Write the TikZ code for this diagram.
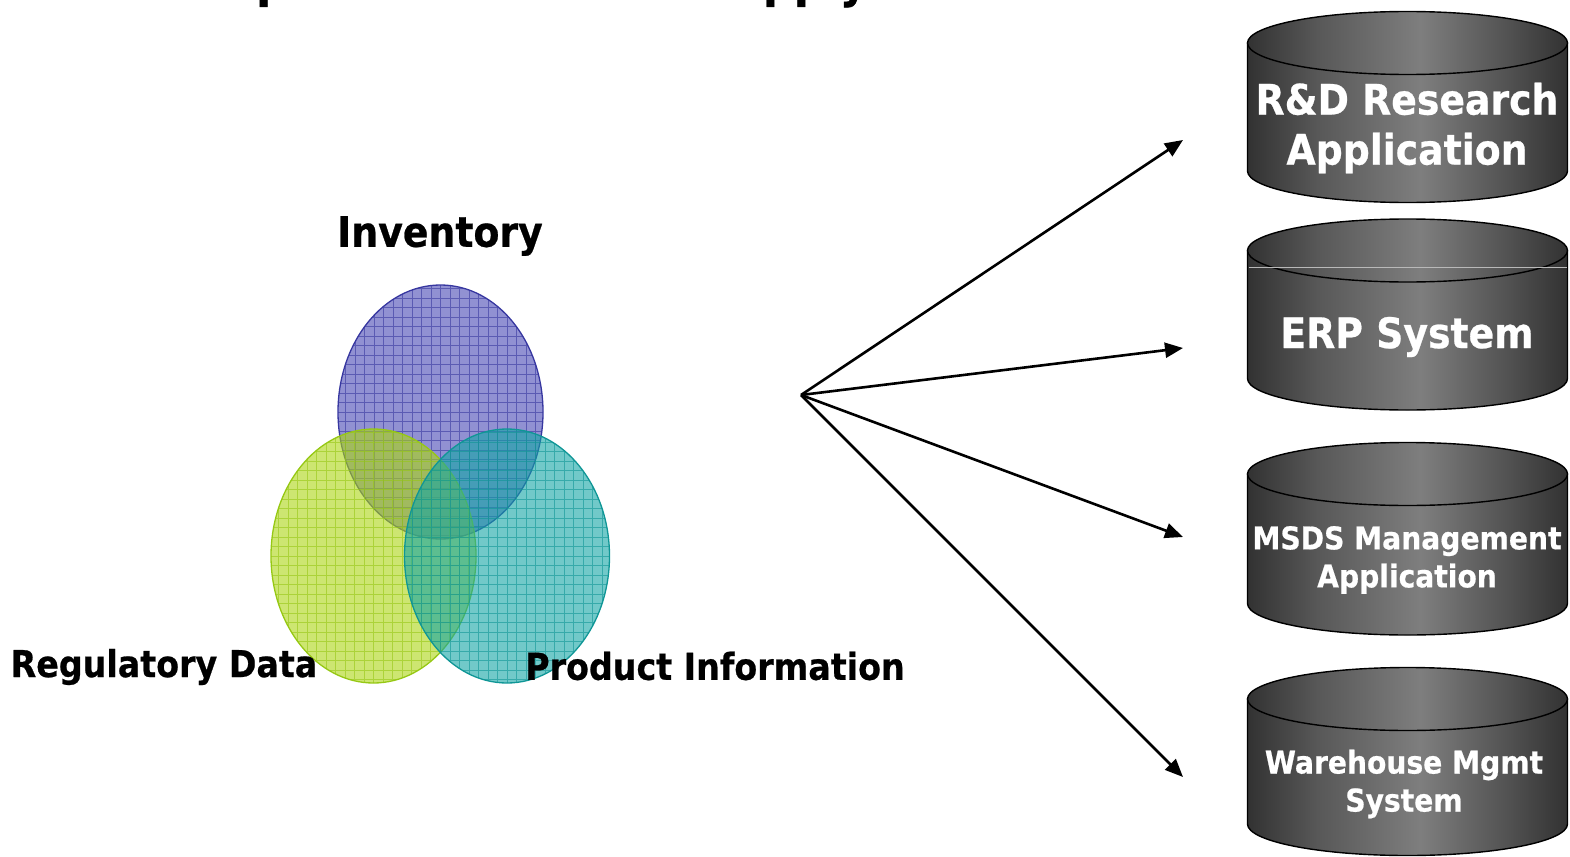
\documentclass[tikz,border=0pt]{standalone}
\usepackage{fontspec}
\newfontfamily\lbl[FakeStretch=0.9,FakeBold=0.6]{DejaVu Sans Bold}
\usetikzlibrary{arrows.meta,shapes.geometric}

\definecolor{drumdark}{RGB}{50,50,50}
\definecolor{drummid}{RGB}{88,88,88}
\definecolor{drumlight}{RGB}{126,126,126}
\definecolor{drumright}{RGB}{84,84,84}
\definecolor{venpurple}{RGB}{72,72,180}
\definecolor{venpurpleline}{RGB}{55,55,160}
\definecolor{vengreen}{RGB}{172,214,18}
\definecolor{vengreenline}{RGB}{150,200,20}
\definecolor{venteal}{RGB}{18,165,165}
\definecolor{ventealline}{RGB}{15,150,150}

% grey metallic sweep across a drum (the path spans 25bp..75bp), darkest at both sides
\pgfdeclarehorizontalshading{drumsweep}{100bp}{%
  color(0bp)=(drumdark); color(25bp)=(drumdark); color(36bp)=(drummid);
  color(52bp)=(drumlight); color(65bp)=(drumright);
  color(75bp)=(drumdark); color(100bp)=(drumdark)}

\tikzset{
  titletext/.style={font=\lbl\fontsize{48}{56}\selectfont, inner sep=0pt, text=black},
  lab/.style={font=\lbl\fontsize{37}{44}\selectfont, inner sep=0pt, text=black},
  biglab/.style={font=\lbl\fontsize{42}{50}\selectfont, inner sep=0pt, text=black},
  cyltext/.style={text=white, align=center, inner sep=0pt, font=\lbl\fontsize{42}{50}\selectfont},
  cylsmall/.style={text=white, align=center, inner sep=0pt, font=\lbl\fontsize{31.3}{38}\selectfont},
  link/.style={line width=2.6pt, -{Triangle[length=18pt,width=15pt]}},
  drum/.style={shading=drumsweep, draw=black, line width=1.4pt},
  venn/.style n args={3}{ellipse, minimum width=205pt, minimum height=254pt, inner sep=0pt,
               fill=#1, fill opacity=0.6, draw=#2, line width=1.3pt,
               path picture={\draw[#2, line width=0.8pt, draw opacity=0.6, step=9.5pt]
                 (path picture bounding box.south west) grid (path picture bounding box.north east);}},
}

% database drum: top ellipse centre y, bottom ellipse centre y
\newcommand\drawdrum[2]{%
  \path[drum] (1247.5,#1) -- (1247.5,#2)
     arc[start angle=180, end angle=0, x radius=160, y radius=31.5] -- (1567.5,#1) -- cycle;
  \path[drum] (1407.5,#1) ellipse[x radius=160, y radius=31.5];
}

\begin{document}
\begin{tikzpicture}[x=1pt, y=-1pt]
  \useasboundingbox (0,0) rectangle (1570,856);
  \clip (0,0) rectangle (1570,856);

  % heading, only its descenders fall inside the frame
  \node[titletext, anchor=base west] (headp) at (256,-3) {p};
  \node[titletext, anchor=base west] (headsupply) at (701,-3) {Supply};

  % three overlapping data sets
  \node[venn={venpurple}{venpurpleline}{}] (inv)  at (440.5,412) {};
  \node[venn={vengreen}{vengreenline}{}]   (reg)  at (373.5,556) {};
  \node[venn={venteal}{ventealline}{}]     (prod) at (507,556) {};

  \node[biglab] (invlab)  at (440,236) {Inventory};
  \node[lab]    (reglab)  at (164,667) {Regulatory Data};
  \node[lab]    (prodlab) at (715,666) {Product Information};

  % target systems
  \drawdrum{43}{171}
  \drawdrum{250.5}{378.5}
  \draw[gray!55, line width=0.8pt] (1248.5,267) -- (1566.5,267);
  \drawdrum{474}{603.5}
  \drawdrum{699}{824}

  \node[cyltext]  (rnd)  at (1407,128) {R\&D Research\\Application};
  \node[cyltext]  (erp)  at (1407,337) {ERP System};
  \node[cylsmall] (msds) at (1407,560) {MSDS Management\\Application};
  \node[cylsmall] (wms)  at (1404,784) {Warehouse Mgmt\\System};

  % fan-out connectors
  \coordinate (hub) at (801,395);
  \coordinate (endrnd)  at (1183,140);
  \coordinate (enderp)  at (1183,348);
  \coordinate (endmsds) at (1183,537);
  \coordinate (endwms)  at (1183,777);
  \draw[link] (hub) -- (endrnd);
  \draw[link] (hub) -- (enderp);
  \draw[link] (hub) -- (endmsds);
  \draw[link] (hub) -- (endwms);
\end{tikzpicture}
\end{document}
